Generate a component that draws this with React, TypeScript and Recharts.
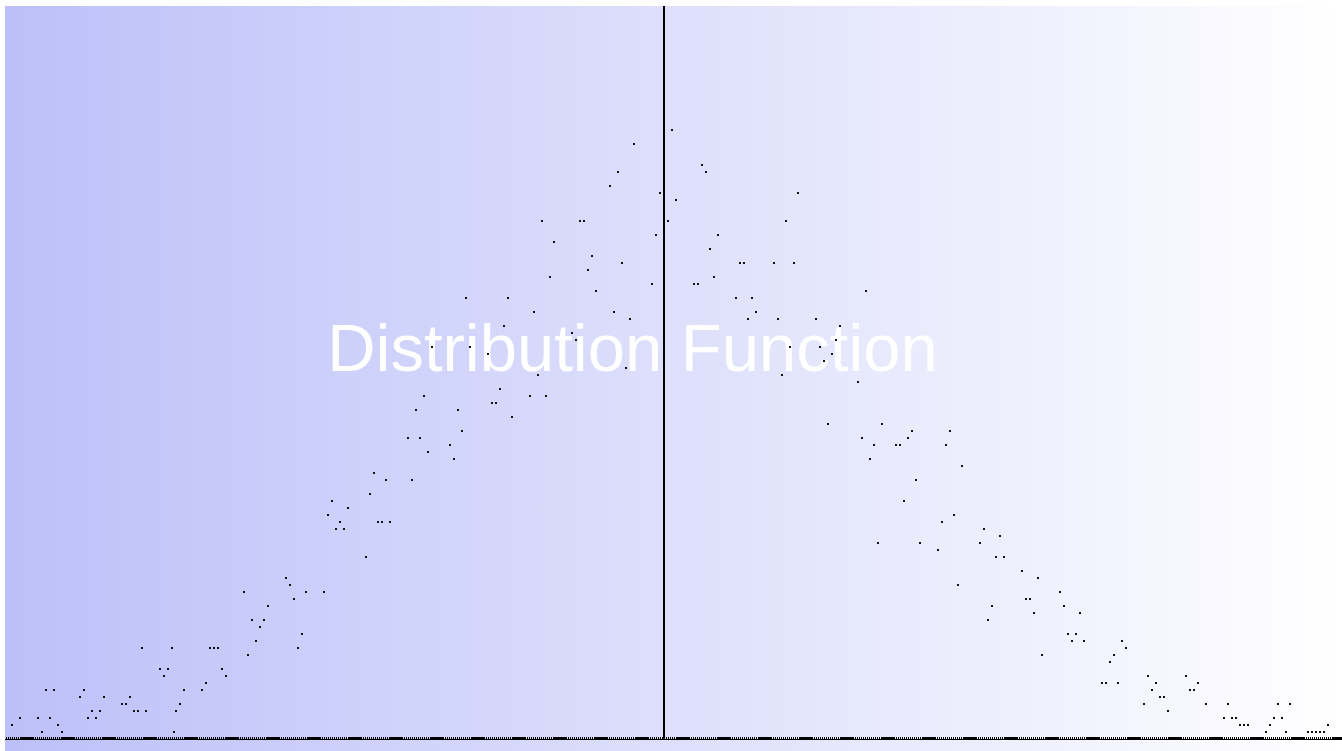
import React from "react";
import { ScatterChart, Scatter, XAxis, YAxis, ReferenceLine } from "recharts";

// bin offset from the centre line, and the count in that bin (left half)
const leftBins = [
  -326, -322, -313, -311, -309, -307, -305, -303, -301,
  -292, -290, -288, -286, -284, -282, -280,
  -271, -269, -267, -265, -263, -261, -259,
  -252, -250, -248, -246, -245, -244, -242, -240,
  -231, -229, -227, -225, -223, -221, -219,
  -210, -208, -206, -204, -202, -200, -198,
  -189, -187, -185, -183, -181, -179,
  -170, -168, -166, -164, -162, -160, -158,
  -149, -147, -145, -143, -141, -139, -137,
  -128, -126, -124, -122, -120, -118, -116,
  -107, -105, -103, -101, -99, -97,
  -88, -86, -84, -82, -80, -78, -76,
  -67, -65, -63, -61, -59, -57, -55,
  -46, -44, -42, -40, -38, -36, -34,
  -27, -25, -23, -21, -19, -17, -15,
  -6, -4, -2,
];
const leftCounts = [
  2, 3, 3, 1, 7, 3, 7, 2, 1,
  6, 7, 3, 4, 3, 4, 6,
  5, 5, 6, 4, 4, 13, 4,
  10, 9, 10, 13, 1, 4, 5, 7,
  7, 8, 13, 13, 13, 10, 9,
  21, 12, 17, 14, 16, 17, 19,
  23, 22, 20, 13, 15, 21,
  21, 32, 34, 30, 31, 30, 33,
  26, 35, 38, 31, 31, 37, 31,
  43, 37, 47, 43, 49, 41, 56,
  42, 40, 47, 44, 63, 56,
  55, 48, 48, 50, 59, 63, 46,
  49, 61, 52, 74, 49, 66, 71,
  58, 57, 74, 74, 67, 69, 64,
  79, 61, 81, 68, 53, 60, 85,
  65, 72, 78,
];

// right half
const rightBins = [
  2, 4, 6,
  15, 17, 19, 21, 23, 25, 27,
  36, 38, 40, 42, 44, 46,
  55, 57, 59, 61, 63, 65, 67,
  76, 78, 80, 82, 84, 86, 88,
  97, 99, 101, 103, 105, 107, 109,
  116, 118, 120, 122, 124, 126, 128,
  137, 139, 141, 143, 145, 147, 149,
  158, 160, 162, 164, 166, 168, 170,
  179, 181, 183, 185, 187, 189,
  198, 200, 202, 204, 206, 208, 210,
  219, 221, 223, 225, 227, 229, 231,
  240, 242, 244, 246, 248, 250, 252,
  261, 263, 265, 267, 271,
  280, 282, 284, 286, 288, 290, 292,
  301, 303, 305, 307, 309, 311, 313,
  322, 324, 326, 328, 330, 332,
];
const rightCounts = [
  74, 87, 77,
  65, 65, 82, 81, 70, 66, 72,
  63, 68, 68, 60, 63, 61,
  68, 60, 52, 74, 56, 68, 78,
  60, 56, 54, 45, 55, 57, 59,
  51, 43, 64, 40, 42, 28, 45,
  42, 42, 34, 43, 44, 37, 28,
  27, 31, 42, 44, 32, 22, 39,
  28, 30, 17, 19, 26, 29, 26,
  24, 20, 20, 18, 23, 12,
  21, 19, 15, 14, 15, 18, 14,
  8, 8, 11, 12, 8, 14, 13,
  5, 9, 7, 8, 6, 6, 4,
  9, 7, 7, 8, 5,
  3, 5, 3, 3, 2, 2, 2,
  1, 2, 3, 5, 3, 1, 5,
  1, 1, 1, 1, 1, 2,
];

const title = "Distribution Function";

const points = [
  ...leftBins.map((x, i) => ({ x, y: leftCounts[i] })),
  ...rightBins.map((x, i) => ({ x, y: rightCounts[i] })),
];

const W = 1337;
const H = 734;

// tiny black mark for each sample, snapped to the pixel grid
const Dot = (props: any) => {
  const { cx, cy } = props;
  if (cx == null || cy == null) return null;
  return (
    <rect
      x={Math.round(cx) - 1}
      y={Math.round(cy) - 1}
      width={2}
      height={2}
      fill="#111"
    />
  );
};

// dotted/solid run along the zero line
const baseDash = "14 1 " + Array(13).fill("1 1").join(" ");

export default function App() {
  return (
    <div
      style={{
        position: "absolute",
        left: 5,
        top: 6,
        width: W,
        height: 745,
        background: "linear-gradient(to right, #bcc0f8, #ffffff)",
        overflow: "hidden",
      }}
    >
      <svg
        width={W}
        height={H}
        style={{ position: "absolute", left: 0, top: 0 }}
      >
        <text
          x={627.5}
          y={364.5}
          textAnchor="middle"
          fill="#ffffff"
          fontSize={67}
          fontFamily="'Liberation Sans', Arial, sans-serif"
        >
          {title}
        </text>
      </svg>
      <div style={{ position: "absolute", left: 0, top: 0 }}>
        <ScatterChart
          width={W}
          height={H}
          margin={{ top: 0, right: 0, bottom: 0, left: 0 }}
        >
          <XAxis
            type="number"
            dataKey="x"
            domain={[-329.5, 339]}
            allowDataOverflow
            hide
          />
          <YAxis
            type="number"
            dataKey="y"
            domain={[-0.2, 104.66]}
            allowDataOverflow
            hide
          />
          <ReferenceLine x={0} stroke="#000" strokeWidth={2} />
          <ReferenceLine y={-0.13} stroke="#000" strokeWidth={1} />
          <ReferenceLine
            y={0.086}
            stroke="#000"
            strokeWidth={2}
            strokeDasharray={baseDash}
            strokeDashoffset={26}
          />
          <Scatter
            data={points}
            shape={<Dot />}
            isAnimationActive={false}
          />
        </ScatterChart>
      </div>
    </div>
  );
}
